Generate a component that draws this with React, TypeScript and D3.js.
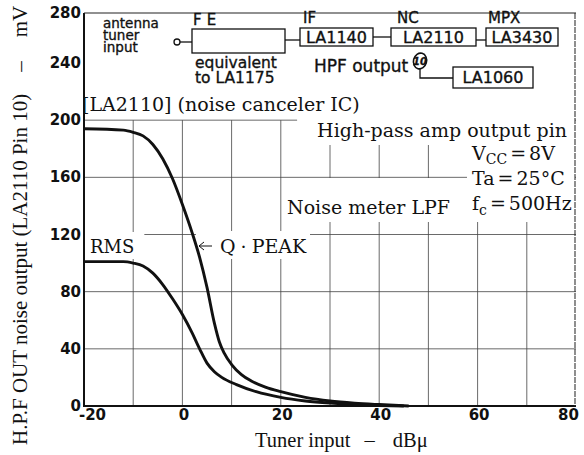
import React, { useEffect, useRef } from "react";
import * as d3 from "d3";

// axis ticks and grid
const xTicks: number[] = [-20, 0, 20, 40, 60, 80];
const yTicks: number[] = [0, 40, 80, 120, 160, 200, 240, 280];
const xGrid: number[] = [-10, 0, 10, 20, 30, 40, 50, 60, 70];
const yGrid: number[] = [40, 80, 120, 160, 200];

// Q·PEAK curve (tuner input dBµ -> mV)
const qpeakInput: number[] = [-20, -12, -10, -8, -6, -4, -2, 0, 2, 3.5, 5, 6.5, 7.5, 8.5, 10, 12, 14, 17, 20, 25, 30, 35, 40, 46];
const qpeakOutput: number[] = [194, 193, 191.5, 189, 183, 173, 159, 141, 121, 104, 83, 58, 45, 37, 29, 22, 17.5, 13, 10, 6, 3.5, 2, 1, 0];

// RMS curve
const rmsInput: number[] = [-20, -12, -10, -8, -6, -4, -2, 0, 2, 3.5, 5, 6.5, 8, 11, 15, 20, 25, 30, 35, 40, 45];
const rmsOutput: number[] = [101, 101, 100, 98, 93, 85, 75, 64, 51, 40, 30, 24, 20, 15, 10, 6, 3.5, 2, 1, 0.4, 0];

const W = 584;
const H = 455;

const SERIF = "'DejaVu Serif', serif";
const TIMES = "'Liberation Serif', 'Times New Roman', serif";
const SANS = "'DejaVu Sans', sans-serif";

export default function App() {
    const svgRef = useRef<SVGSVGElement>(null);
    const xaxisRef = useRef<SVGGElement>(null);
    const yaxisRef = useRef<SVGGElement>(null);
    const maskRef = useRef<SVGGElement>(null);

    const x = d3.scaleLinear().domain([-20, 80]).range([84, 576]);
    // the top of the printed chart is squeezed above 240
    const y = d3.scaleLinear().domain([0, 240, 280]).range([406, 63, 13]);

    const line = d3.line<[number, number]>()
        .x(d => x(d[0]))
        .y(d => y(d[1]))
        .curve(d3.curveMonotoneX);

    const qpeak: [number, number][] = qpeakInput.map((v, i) => [v, qpeakOutput[i]!]);
    const rms: [number, number][] = rmsInput.map((v, i) => [v, rmsOutput[i]!]);

    useEffect(() => {
        const xa = d3.axisBottom(x).tickValues(xTicks).tickSize(0).tickPadding(3)
            .tickFormat(d => String(d));
        const gx = d3.select(xaxisRef.current!);
        gx.call(xa as any);
        gx.select(".domain").remove();
        gx.attr("font-family", SANS).attr("font-size", 15).attr("font-weight", "bold");
        gx.selectAll<SVGTextElement, number>("text")
            .attr("fill", "#111")
            .attr("dx", (d: number) => d == xTicks[0] ? 8 : d == xTicks[xTicks.length - 1] ? -8 : 1);

        const ya = d3.axisLeft(y).tickValues(yTicks).tickSize(0).tickPadding(3)
            .tickFormat(d => String(d));
        const gy = d3.select(yaxisRef.current!);
        gy.call(ya as any);
        gy.select(".domain").remove();
        gy.attr("font-family", SANS).attr("font-size", 15).attr("font-weight", "bold");
        gy.selectAll("text").attr("fill", "#111").attr("dy", "0.3em");

        // white patches behind the printed annotations (they break the grid)
        const mg = d3.select(maskRef.current!);
        mg.selectAll("*").remove();
        d3.select(svgRef.current!).selectAll<SVGGraphicsElement, unknown>("[data-mask]").each(function () {
            const pad = (this.getAttribute("data-mask") || "0,0,0,0").split(",").map(Number);
            const b = this.getBBox();
            const x0 = Math.max(85, b.x - pad[0]!);
            const x1 = Math.min(575, b.x + b.width + pad[2]!);
            mg.append("rect")
                .attr("x", x0).attr("y", b.y - pad[1]!)
                .attr("width", x1 - x0).attr("height", b.height + pad[1]! + pad[3]!)
                .attr("fill", "white");
        });
    }, []);

    const x0 = x(-20), x1 = x(80);
    const yb = y(0), yt = y(280);

    return <div style={{ position: "absolute", left: 0, top: 0 }}>
        <svg ref={svgRef} width={W} height={H} style={{ display: "block", background: "white" }}>
            {/* grid */}
            <g stroke="#444" strokeWidth={0.8}>
                {xGrid.map(v => <line key={"gx" + v} x1={x(v)} x2={x(v)} y1={y(200)} y2={yb} />)}
                {yGrid.map(v => <line key={"gy" + v} x1={x0} x2={x1} y1={y(v)} y2={y(v)} />)}
            </g>
            <g ref={maskRef} />
            <rect x={x0 + 1} y={yt + 1} width={x1 - x0 - 2} height={y(200) - yt - 3} fill="white" />

            {/* frame */}
            <line x1={x0} x2={x0} y1={yt} y2={yb + 1} stroke="#111" strokeWidth={2} />
            <line x1={x0 - 1} x2={x1} y1={yb} y2={yb} stroke="#111" strokeWidth={2} />
            <line x1={x0} x2={x1} y1={yt} y2={yt} stroke="#222" strokeWidth={1.2} />
            <line x1={x1 - 1} x2={x1 - 1} y1={yt} y2={yb} stroke="#333" strokeWidth={1.1} strokeDasharray="6 1" />

            {/* block diagram */}
            <g fill="none" stroke="#111" strokeWidth={1.3}>
                <circle cx={177} cy={42} r={3} />
                <line x1={180} x2={192} y1={42} y2={42} />
                <rect x={192} y={29} width={93} height={24} />
                <line x1={285} x2={300} y1={40} y2={40} />
                <rect x={300} y={28} width={73} height={18} />
                <line x1={373} x2={391} y1={37} y2={37} />
                <rect x={391} y={28} width={85} height={18} />
                <line x1={476} x2={486} y1={40} y2={40} />
                <rect x={486} y={28} width={72} height={18} />
                <ellipse cx={420} cy={61} rx={6.5} ry={8} strokeWidth={1.6} transform="rotate(15,420,61)" />
                <polyline points="420,69 420,78 453,78" />
                <rect x={453} y={67} width={80} height={21} />
            </g>
            <g fontFamily={SANS} fill="#111" stroke="#111" strokeWidth={0.35}>
                <text x={103} y={28} fontSize={13.5}>antenna</text>
                <text x={103} y={40} fontSize={13.5}>tuner</text>
                <text x={103} y={51.5} fontSize={13.5}>input</text>
                <text x={193} y={25} fontSize={15} letterSpacing={5}>FE</text>
                <text x={303} y={23} fontSize={15}>IF</text>
                <text x={397} y={23} fontSize={15}>NC</text>
                <text x={488} y={23} fontSize={15}>MPX</text>
                <text x={336.5} y={43} fontSize={16} textAnchor="middle">LA1140</text>
                <text x={433.5} y={43} fontSize={16} textAnchor="middle">LA2110</text>
                <text x={522} y={43} fontSize={16} textAnchor="middle">LA3430</text>
                <text x={493} y={83} fontSize={16} textAnchor="middle">LA1060</text>
                <text x={195} y={68} fontSize={15.5}>equivalent</text>
                <text x={195} y={82.5} fontSize={15.5}>to LA1175</text>
                <text x={314} y={72} fontSize={17}>HPF output</text>
                <text x={420} y={65} fontSize={10} textAnchor="middle" fontStyle="italic" fontWeight="bold">10</text>
            </g>

            {/* annotations */}
            <g fontFamily={SERIF} fill="#111" fontSize={19}>
                <text x={82} y={111}>[LA2110] (noise canceler IC)</text>
                <text x={567} y={137} textAnchor="end" data-mask="20,5,10,4">High-pass amp output pin</text>
                <g data-mask="4,2,5,4">
                    <text x={472} y={160}>V<tspan fontSize={14} dy={4}>CC</tspan><tspan dy={-4} dx={3}>=</tspan><tspan dx={3}>8V</tspan></text>
                    <text x={472} y={185}>Ta<tspan dx={3}>=</tspan><tspan dx={3}>25°C</tspan></text>
                    <text x={472} y={210}>f<tspan fontSize={14} dy={5}>c</tspan><tspan dy={-5} dx={3}>=</tspan><tspan dx={3}>500Hz</tspan></text>
                </g>
                <text x={287} y={214} data-mask="4,18,22,4">Noise meter LPF</text>
                <text x={90} y={253} fontSize={18} data-mask="6,4,10,2">RMS</text>
                <g data-mask="3,4,3,2">
                    <path d="M212,246 H199 M204,242 L199,246 L204,250" fill="none" stroke="#111" strokeWidth={1} />
                    <text x={220} y={253}>Q<tspan dx={5}>·</tspan><tspan dx={5}>PEAK</tspan></text>
                </g>
            </g>

            {/* curves */}
            <g fill="none" stroke="#111" strokeWidth={2.9} strokeLinejoin="round">
                <path d={line(qpeak)!} />
                <path d={line(rms)!} />
            </g>

            <g ref={xaxisRef} transform={`translate(0,${yb})`} />
            <g ref={yaxisRef} transform={`translate(${x0},0)`} />

            {/* axis titles */}
            <text x={255} y={447} fontFamily={TIMES} fontSize={20.5} fill="#111">
                Tuner input<tspan dx={14}>–</tspan><tspan dx={18}>dBμ</tspan>
            </text>
            <text transform="translate(27,445) rotate(-90)" fontFamily={TIMES} fontSize={21} fill="#111">
                H.P.F OUT noise output (LA2110 Pin 10)<tspan dx={22}>–</tspan><tspan dx={24}>mV</tspan>
            </text>
        </svg>
    </div>;
}
